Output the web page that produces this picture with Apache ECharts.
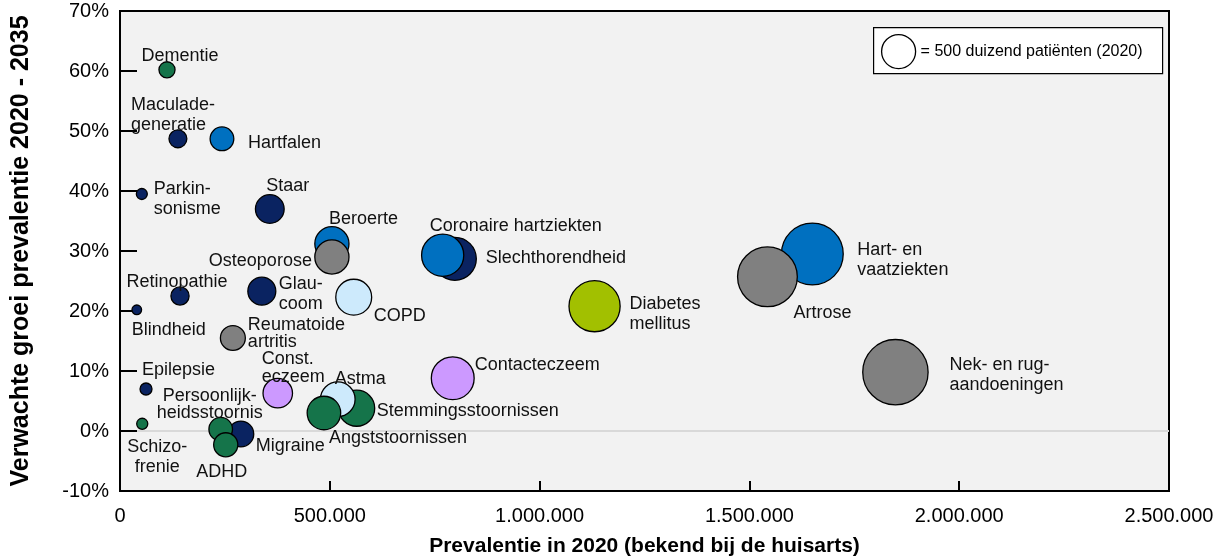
<!DOCTYPE html>
<html>
<head>
<meta charset="utf-8">
<script src="https://cdn.jsdelivr.net/npm/echarts@6/dist/echarts.min.js"></script>
<style>
  html, body { margin: 0; padding: 0; background: #fff; }
  #chart { width: 1225px; height: 558px; }
</style>
</head>
<body>
<div id="chart"></div>
<script>
// aandoeningen, in tekenvolgorde (overlappende bollen: achterste eerst)
const names = [
  'Dementie', 'Maculade-\ngeneratie', 'Hartfalen', 'Parkin-\nsonisme', 'Staar',
  'Beroerte', 'Osteoporose', 'Slechthorendheid', 'Coronaire hartziekten', 'COPD',
  'Diabetes\nmellitus', 'Contacteczeem', 'Stemmingsstoornissen', 'Astma', 'Angststoornissen',
  'Hart- en\nvaatziekten', 'Artrose', 'Nek- en rug-\naandoeningen', 'Retinopathie', 'Glau-\ncoom',
  'Blindheid', 'Reumatoide\nartritis', 'Epilepsie', 'Const.\neczeem', 'Schizo-\nfrenie',
  'Migraine', 'Persoonlijk-\nheidsstoornis', 'ADHD'
]
// prevalentie 2020 (bekend bij de huisarts)
const prevalence = [
  112000, 138000, 243000, 52000, 357000,
  505000, 505000, 798000, 769000, 557000,
  1131000, 793000, 564000, 519000, 486000,
  1650000, 1543000, 1848000, 143000, 338000,
  40000, 269000, 62000, 376000, 53000,
  288000, 240000, 252000
]
// verwachte groei prevalentie 2020 - 2035 (fractie)
const growth = [
  0.602, 0.487, 0.487, 0.395, 0.370,
  0.312, 0.290, 0.287, 0.293, 0.223,
  0.208, 0.088, 0.038, 0.053, 0.030,
  0.295, 0.257, 0.098, 0.225, 0.233,
  0.202, 0.155, 0.070, 0.063, 0.012,
  -0.005, 0.003, -0.023
]
const groups = [
  'psych', 'zintuig', 'hart', 'zintuig', 'zintuig',
  'hart', 'spier', 'zintuig', 'hart', 'long',
  'diabetes', 'huid', 'psych', 'long', 'psych',
  'hart', 'spier', 'spier', 'zintuig', 'zintuig',
  'zintuig', 'spier', 'zintuig', 'huid', 'psych',
  'zintuig', 'psych', 'psych'
]
const xTicks = [0, 500000, 1000000, 1500000, 2000000, 2500000]
const yTicks = [-0.1, 0, 0.1, 0.2, 0.3, 0.4, 0.5, 0.6, 0.7]
const legendValue = 500000
const legendText = '= ' + legendValue / 1000 + ' duizend patiënten (2020)'

const groupColors = {
  psych: '#15744a', zintuig: '#0a2361', hart: '#0070c0', spier: '#808080',
  long: '#cdeafc', diabetes: '#a2c000', huid: '#cc99ff'
}

// label plaatsing: [dx, dy, align, lineHeight] t.o.v. het middelpunt van de bol
const labelPlace = {
  'Dementie': [13, -14, 'center'],
  'Maculade-\ngeneratie': [-47, -24, 'left'],
  'Hartfalen': [26, 4, 'left'],
  'Parkin-\nsonisme': [12, 5, 'left'],
  'Staar': [18, -23, 'center'],
  'Beroerte': [-3, -25, 'left'],
  'Osteoporose': [-20, 4, 'right'],
  'Slechthorendheid': [31, -1, 'left'],
  'Coronaire hartziekten': [-13, -29, 'left'],
  'COPD': [20, 19, 'left'],
  'Diabetes\nmellitus': [35, 8, 'left'],
  'Contacteczeem': [22, -13, 'left'],
  'Stemmingsstoornissen': [20, 3, 'left'],
  'Astma': [-3, -20, 'left'],
  'Angststoornissen': [5, 25, 'left'],
  'Hart- en\nvaatziekten': [45, 6, 'left'],
  'Artrose': [26, 36, 'left'],
  'Nek- en rug-\naandoeningen': [54, 3, 'left'],
  'Retinopathie': [-3, -14, 'center'],
  'Glau-\ncoom': [17, 3, 'left'],
  'Blindheid': [-5, 20, 'left'],
  'Reumatoide\nartritis': [15, -4, 'left', 17],
  'Epilepsie': [-4, -19, 'left'],
  'Const.\neczeem': [-16, -25, 'left', 18],
  'Schizo-\nfrenie': [15, 33, 'center'],
  'Migraine': [15, 12, 'left'],
  'Persoonlijk-\nheidsstoornis': [-11, -25, 'center', 17],
  'ADHD': [-4, 27, 'center']
}

const sizeFor = (v) => 34 * Math.sqrt(v / legendValue)

const fmtThousands = (v) => String(Math.round(v)).replace(/\B(?=(\d{3})+(?!\d))/g, '.')

const points = names.map((n, i) => {
  const p = labelPlace[n]
  return {
    name: n,
    value: [prevalence[i], growth[i]],
    symbolSize: sizeFor(prevalence[i]),
    itemStyle: { color: groupColors[groups[i]] },
    label: {
      show: true,
      formatter: n,
      position: 'inside',
      offset: [p[0], p[1]],
      align: p[2],
      verticalAlign: 'middle',
      lineHeight: p[3] || 20
    }
  }
})

const chart = echarts.init(document.getElementById('chart'))
const font = 'Liberation Sans, Arial, sans-serif'

chart.setOption({
  animation: false,
  textStyle: { fontFamily: font },
  grid: {
    left: 120, right: 56, top: 11, bottom: 67,
    outerBoundsMode: 'none',
    show: true, backgroundColor: '#f2f2f2', borderColor: '#000', borderWidth: 2
  },
  xAxis: {
    type: 'value',
    min: xTicks[0],
    max: xTicks[xTicks.length - 1],
    interval: xTicks[1] - xTicks[0],
    name: 'Prevalentie in 2020 (bekend bij de huisarts)',
    nameLocation: 'middle',
    nameGap: 45,
    nameTextStyle: { fontSize: 21, fontWeight: 'bold', color: '#000', fontFamily: font },
    axisLine: { show: true, onZero: false, lineStyle: { color: '#000', width: 2 } },
    axisTick: { show: true, inside: true, length: 10, lineStyle: { color: '#000', width: 2 } },
    axisLabel: { fontSize: 20, color: '#000', margin: 15, formatter: fmtThousands },
    splitLine: { show: false }
  },
  yAxis: {
    type: 'value',
    min: yTicks[0],
    max: yTicks[yTicks.length - 1],
    interval: 0.1,
    name: 'Verwachte groei prevalentie 2020 - 2035',
    nameLocation: 'middle',
    nameGap: 86,
    nameTextStyle: { fontSize: 25, fontWeight: 'bold', color: '#000', fontFamily: font },
    axisLine: { show: true, onZero: false, lineStyle: { color: '#000', width: 2 } },
    axisTick: { show: true, inside: true, length: 17, lineStyle: { color: '#000', width: 2 } },
    axisLabel: {
      fontSize: 20, color: '#000', margin: 11, padding: [8, 0, 0, 0],
      formatter: (v) => Math.round(v * 100) + '%'
    },
    splitLine: {
      show: true,
      lineStyle: {
        width: 2,
        color: yTicks.map((t) => (Math.abs(t) < 1e-9 ? '#d9d9d9' : 'rgba(0,0,0,0)'))
      }
    }
  },
  series: [
    {
      type: 'scatter',
      data: points,
      itemStyle: { borderColor: '#000', borderWidth: 1.3, opacity: 1 },
      label: { color: '#111', fontSize: 18, fontFamily: font },
      emphasis: { disabled: true }
    }
  ],
  graphic: [
    {
      type: 'group',
      left: 873,
      top: 27,
      children: [
        {
          type: 'rect',
          shape: { x: 0, y: 0, width: 289, height: 46 },
          style: { fill: '#fff', stroke: '#000', lineWidth: 1.2 }
        },
        {
          type: 'circle',
          shape: { cx: 25, cy: 24, r: sizeFor(legendValue) / 2 },
          style: { fill: '#fff', stroke: '#000', lineWidth: 1.3 }
        },
        {
          type: 'text',
          x: 47,
          y: 24,
          style: {
            text: legendText, fontSize: 16, fontFamily: font, fill: '#000',
            verticalAlign: 'middle', align: 'left'
          }
        }
      ]
    }
  ]
})

window.addEventListener('resize', () => chart.resize())
</script>
</body>
</html>
